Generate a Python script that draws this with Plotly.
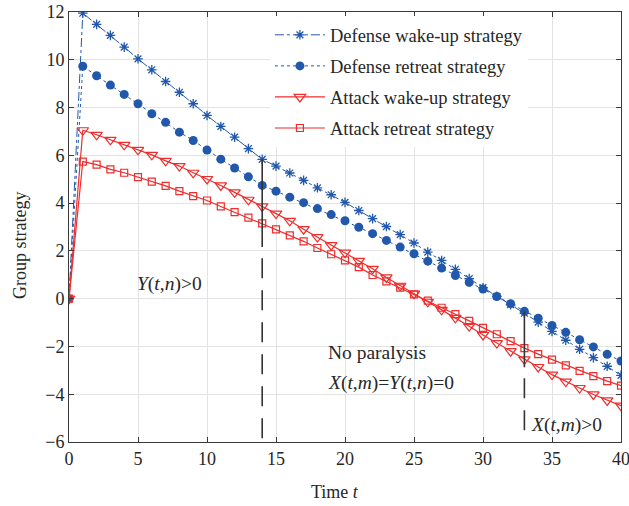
import plotly.graph_objects as go

t = list(range(0, 41))

defense_wakeup = [0, 11.95, 11.48, 11.02, 10.53, 10.04, 9.58, 9.09, 8.64, 8.16, 7.67,
                  7.21, 6.76, 6.28, 5.83, 5.55, 5.26, 4.95, 4.64, 4.35, 4.03,
                  3.69, 3.35, 3.02, 2.68, 2.33, 1.95, 1.60, 1.23, 0.84, 0.46,
                  0.10, -0.25, -0.61, -0.98, -1.37, -1.74, -2.12, -2.47, -2.83, -3.21]
defense_retreat = [0, 9.73, 9.33, 8.94, 8.55, 8.16, 7.74, 7.38, 6.97, 6.62, 6.22,
                   5.84, 5.47, 5.10, 4.74, 4.50, 4.25, 4.02, 3.77, 3.52, 3.26,
                   2.99, 2.72, 2.44, 2.16, 1.88, 1.57, 1.28, 0.97, 0.68, 0.40,
                   0.09, -0.21, -0.53, -0.82, -1.12, -1.41, -1.72, -2.02, -2.33, -2.61]
attack_wakeup = [0, 7.05, 6.86, 6.65, 6.44, 6.23, 6.02, 5.77, 5.55, 5.27, 5.01,
                 4.74, 4.45, 4.14, 3.86, 3.56, 3.26, 2.91, 2.58, 2.24, 1.93,
                 1.58, 1.25, 0.89, 0.54, 0.21, -0.13, -0.47, -0.80, -1.15, -1.52,
                 -1.86, -2.20, -2.54, -2.86, -3.18, -3.47, -3.74, -4.01, -4.26, -4.48]
attack_retreat = [0, 5.74, 5.61, 5.41, 5.27, 5.09, 4.90, 4.72, 4.50, 4.29, 4.11,
                  3.86, 3.62, 3.39, 3.15, 2.90, 2.65, 2.40, 2.12, 1.86, 1.60,
                  1.32, 0.99, 0.72, 0.46, 0.18, -0.08, -0.38, -0.65, -0.93, -1.22,
                  -1.49, -1.78, -2.07, -2.32, -2.55, -2.79, -3.02, -3.24, -3.45, -3.64]

series_names = ["Defense wake-up strategy", "Defense retreat strategy",
                "Attack wake-up strategy", "Attack retreat strategy"]

# regime boundaries (vertical dashed markers)
boundary_t = [14, 33]
boundary_solid_end = [2.16, -2.87]
boundary_dash_start = [1.69, -3.33]

BLUE = "#2258AC"
RED = "#F02C2C"
FONT = "Liberation Serif"

fig = go.Figure()

fig.add_trace(go.Scatter(
    x=t, y=defense_wakeup, name=series_names[0], mode="lines+markers",
    line=dict(color=BLUE, width=1, dash="dashdot"),
    marker=dict(symbol="asterisk-open", size=8, color=BLUE, line=dict(color=BLUE, width=1.3)),
    legendgroup="a"))
fig.add_trace(go.Scatter(
    x=t, y=defense_retreat, name=series_names[1], mode="lines+markers",
    line=dict(color=BLUE, width=1, dash="dot"),
    marker=dict(symbol="circle", size=9, color=BLUE),
    legendgroup="b"))
fig.add_trace(go.Scatter(
    x=t, y=attack_wakeup, name=series_names[2], mode="lines+markers",
    line=dict(color=RED, width=1.2),
    marker=dict(symbol="triangle-down-open", size=10, color=RED, line=dict(color=RED, width=1.2)),
    legendgroup="c"))
fig.add_trace(go.Scatter(
    x=t, y=attack_retreat, name=series_names[3], mode="lines+markers",
    line=dict(color=RED, width=1.2),
    marker=dict(symbol="square-open", size=7, color=RED, line=dict(color=RED, width=1.2)),
    legendgroup="d"))

# vertical regime lines starting at the curve points
tops = [defense_wakeup[boundary_t[0]], defense_retreat[boundary_t[1]]]
for bt, top, se, ds in zip(boundary_t, tops, boundary_solid_end, boundary_dash_start):
    fig.add_trace(go.Scatter(x=[bt, bt], y=[top, se], mode="lines",
                             line=dict(color="#333333", width=1.6),
                             showlegend=False, hoverinfo="skip"))
    fig.add_trace(go.Scatter(x=[bt, bt], y=[ds, -6], mode="lines",
                             line=dict(color="#333333", width=1.6, dash="20px,12px"),
                             showlegend=False, hoverinfo="skip"))

ann_font = dict(family=FONT, size=19.5, color="#262626")
fig.add_annotation(x=7.3, y=0.6, text="<i>Y</i>(<i>t</i>,<i>n</i>)&gt;0",
                   showarrow=False, font=ann_font, xanchor="center", yanchor="middle")
fig.add_annotation(x=18.6, y=-2.25, text="No paralysis",
                   showarrow=False, font=ann_font, xanchor="left", yanchor="middle")
fig.add_annotation(x=18.6, y=-3.54, text="<i>X</i>(<i>t</i>,<i>m</i>)=<i>Y</i>(<i>t</i>,<i>n</i>)=0",
                   showarrow=False, font=ann_font, xanchor="left", yanchor="middle")
fig.add_annotation(x=33.3, y=-5.3, text="<i>X</i>(<i>t</i>,<i>m</i>)&gt;0",
                   showarrow=False, font=ann_font, xanchor="left", yanchor="middle")

# axis titles (placed like the original figure)
title_font = dict(family=FONT, size=18, color="#262626")
fig.add_annotation(xref="paper", yref="paper", x=0.482, y=-0.116, text="Time <i>t</i>",
                   showarrow=False, font=title_font, xanchor="center", yanchor="middle")
fig.add_annotation(xref="paper", yref="paper", x=-0.089, y=0.458, text="Group strategy",
                   showarrow=False, font=title_font, xanchor="center", yanchor="middle",
                   textangle=-90)

axis_common = dict(showgrid=True, gridcolor="#E3E3E3", gridwidth=1,
                   showline=True, linecolor="#3A3A3A", linewidth=1, mirror="ticks",
                   ticks="inside", ticklen=5, tickcolor="#3A3A3A",
                   tickfont=dict(family=FONT, size=18, color="#262626"),
                   zeroline=False, automargin=False, ticklabeloverflow="allow")

fig.update_layout(
    width=629, height=506,
    margin=dict(l=69, r=8, t=12, b=64),
    paper_bgcolor="white", plot_bgcolor="white",
    font=dict(family=FONT, size=18, color="#262626"),
    xaxis=dict(range=[0, 40], dtick=5, tick0=0, **axis_common),
    yaxis=dict(range=[-6, 12], dtick=2, tick0=0, **axis_common),
    legend=dict(x=0.364, y=0.99, xanchor="left", yanchor="top",
                bgcolor="white", borderwidth=0,
                font=dict(family=FONT, size=18.5, color="#262626"),
                tracegroupgap=4, itemwidth=50, traceorder="grouped"),
    showlegend=True,
)

fig.write_html("out.html")
